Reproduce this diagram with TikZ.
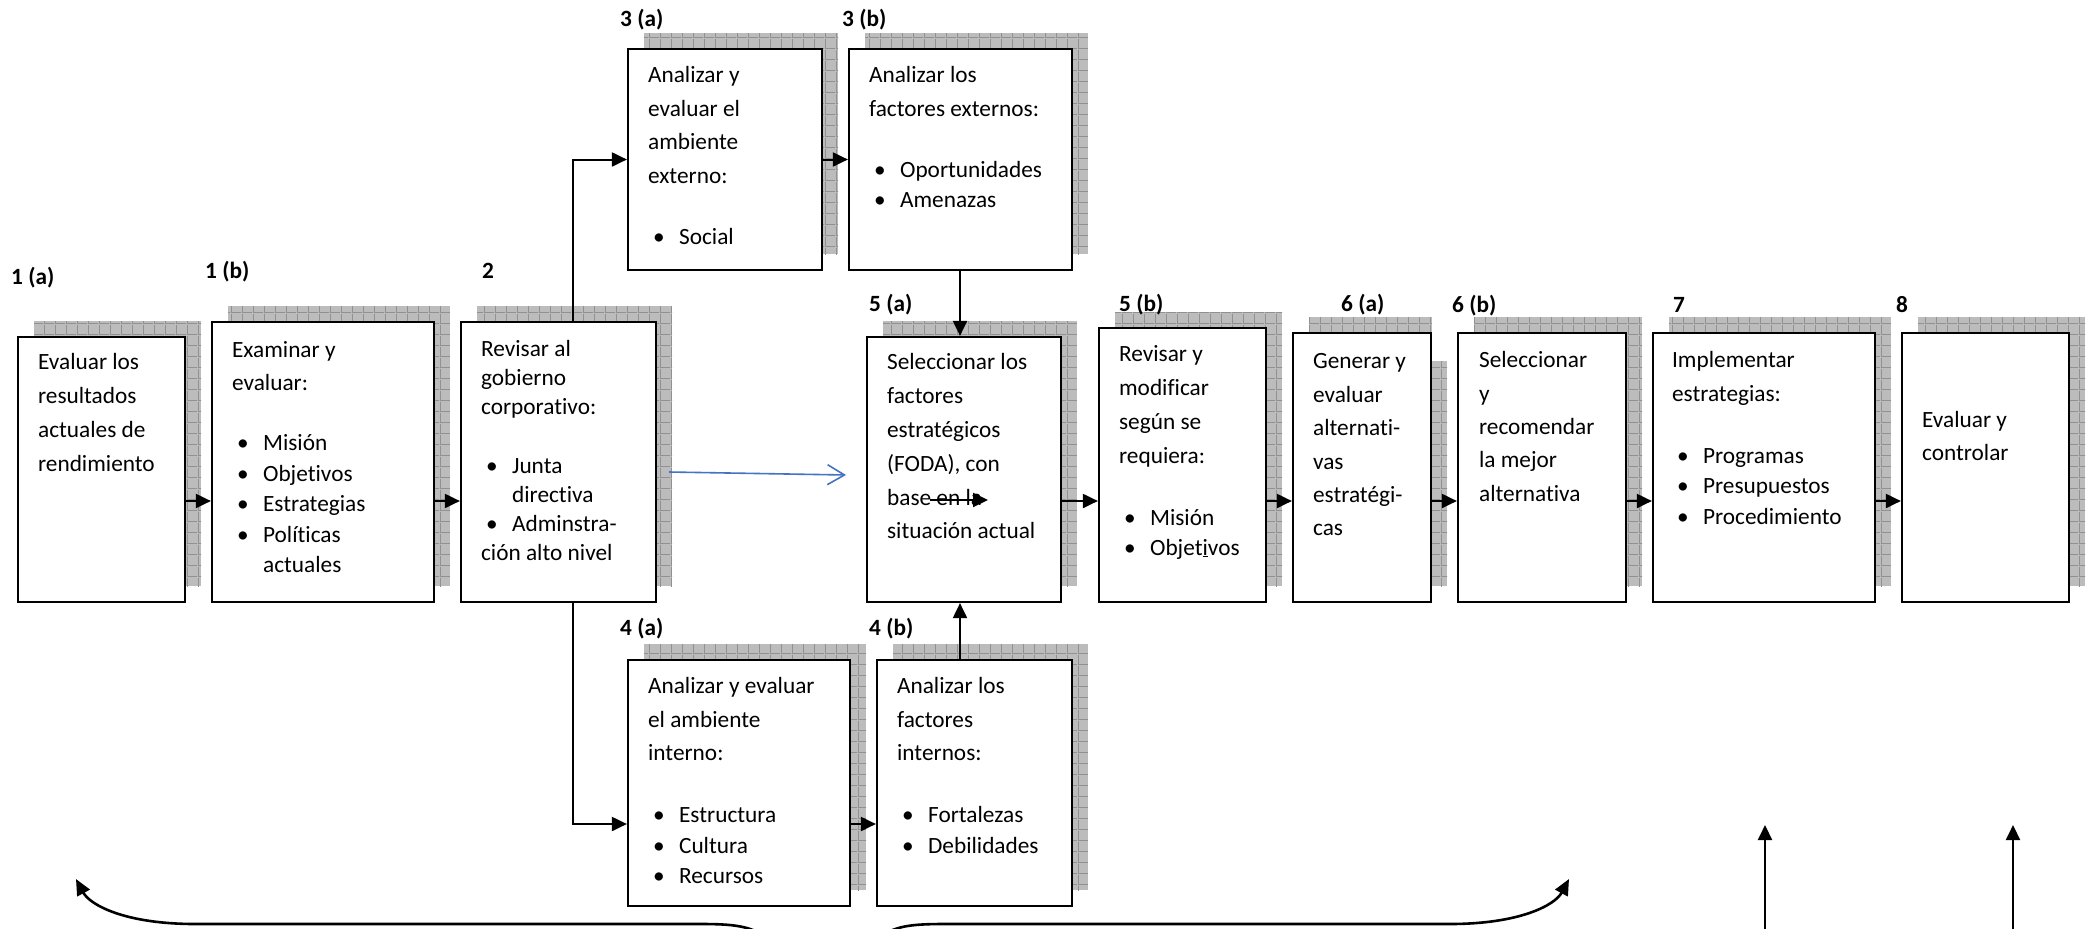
\documentclass[tikz,border=0pt]{standalone}
\usepackage{fontspec}
\setmainfont[Ligatures={NoCommon}]{Carlito}
\usetikzlibrary{arrows.meta,patterns.meta}
\definecolor{shgray}{RGB}{188,188,188}
\definecolor{shline}{RGB}{145,145,145}
\definecolor{bluearr}{RGB}{68,114,196}
\pgfdeclarepattern{
  name=shgrid,
  type=uncolored,
  bottom left={\pgfpoint{0pt}{0pt}},
  top right={\pgfpoint{11pt}{11pt}},
  tile size={\pgfpoint{11pt}{11pt}},
  code={
    \pgfsetlinewidth{1pt}
    \pgfpathmoveto{\pgfpoint{0pt}{0.5pt}}
    \pgfpathlineto{\pgfpoint{11pt}{0.5pt}}
    \pgfpathmoveto{\pgfpoint{0.5pt}{0pt}}
    \pgfpathlineto{\pgfpoint{0.5pt}{11pt}}
    \pgfusepath{stroke}
  }
}
\newcommand\TLine[2]{\baselineskip=#1pt\relax\hbox{#2}}
\newcommand\TBul[2]{\baselineskip=#1pt\relax\hbox{\hspace*{5pt}\makebox[26pt][l]{\textbullet}#2}}
\newcommand\TInd[2]{\baselineskip=#1pt\relax\hbox{\hspace*{31pt}#2}}
\newcommand\Txt[1]{\vtop{\lineskiplimit=-200pt\lineskip=0pt #1}}
\begin{document}
\begin{tikzpicture}[x=1pt,y=-1pt,
  box/.style={rectangle, draw=black, line width=2.2pt, fill=white, inner sep=0pt,
    preaction={fill=shgray, transform canvas={xshift=16pt,yshift=16pt}},
    preaction={pattern=shgrid, pattern color=shline, transform canvas={xshift=16pt,yshift=16pt}}},
  txt/.style={anchor=base west, inner sep=0pt, font=\fontsize{23.3}{33.5}\selectfont},
  lbl/.style={anchor=base west, inner sep=0pt, font=\fontsize{23.3}{28}\selectfont\bfseries},
  arr/.style={line width=2pt, -{Triangle[length=15pt,width=14pt]}},
  arrb/.style={line width=2.6pt, -{Triangle[length=16pt,width=14pt]}},
  barr/.style={line width=1.6pt, draw=bluearr, -{Straight Barb[length=17pt,width=20pt,line width=1.6pt]}}
]
\useasboundingbox (0,0) rectangle (2089,929);
\fill[white] (0,0) rectangle (2089,929);

% boxes
\node[box, minimum width=167pt, minimum height=265pt] (b1a) at (101.5,469.5) {};
\node[box, minimum width=222pt, minimum height=280pt] (b1b) at (323,462) {};
\node[box, minimum width=195pt, minimum height=280pt] (b2)  at (558.5,462) {};
\node[box, minimum width=194pt, minimum height=221pt] (b3a) at (725,159.5) {};
\node[box, minimum width=223pt, minimum height=221pt] (b3b) at (960.5,159.5) {};
\node[box, minimum width=222pt, minimum height=246pt] (b4a) at (739,783) {};
\node[box, minimum width=195pt, minimum height=246pt] (b4b) at (974.5,783) {};
\node[box, minimum width=194pt, minimum height=265pt] (b5a) at (964,469.5) {};
\node[box, minimum width=167pt, minimum height=274pt] (b5b) at (1182.5,465) {};
\node[box, minimum width=138pt, minimum height=269pt] (b6a) at (1362,467.5) {};
\fill[white] (1432.4,314) rectangle (1450,361);
\node[box, minimum width=168pt, minimum height=269pt] (b6b) at (1542,467.5) {};
\node[box, minimum width=222pt, minimum height=269pt] (b7)  at (1764,467.5) {};
\node[box, minimum width=167pt, minimum height=269pt] (b8)  at (1985.5,467.5) {};

% labels
\node[lbl] (l1a) at (11,284) {1 (a)};
\node[lbl] (l1b) at (205,278) {1 (b)};
\node[lbl] (l2)  at (482,278) {2};
\node[lbl] (l3a) at (620,26) {3 (a)};
\node[lbl] (l3b) at (842,26) {3 (b)};
\node[lbl] (l4a) at (620,635) {4 (a)};
\node[lbl] (l4b) at (869,635) {4 (b)};
\node[lbl] (l5a) at (869,311) {5 (a)};
\node[lbl] (l5b) at (1119,311) {5 (b)};
\node[lbl] (l6a) at (1341,311) {6 (a)};
\node[lbl] (l6b) at (1452,312) {6 (b)};
\node[lbl] (l7)  at (1673,312) {7};
\node[lbl] (l8)  at (1896,312) {8};

% texts
\node[txt] (t1a) at ([shift={(21pt,-34pt)}]b1a.north west) {\Txt{\TLine{0}{Evaluar los}\TLine{33.7}{resultados}\TLine{33.7}{actuales de}\TLine{33.7}{rendimiento}}};
\node[txt] (t1b) at ([shift={(21pt,-37pt)}]b1b.north west) {\Txt{\TLine{0}{Examinar y}\TLine{33}{evaluar:}\TBul{60}{Misión}\TBul{30.5}{Objetivos}\TBul{30.5}{Estrategias}\TBul{30.5}{Políticas}\TInd{30.5}{actuales}}};
\node[txt] (t2) at ([shift={(21pt,-36pt)}]b2.north west) {\Txt{\TLine{0}{Revisar al}\TLine{29}{gobierno}\TLine{29}{corporativo:}\TBul{59}{Junta}\TInd{28.5}{directiva}\TBul{29.5}{Adminstra-}\TLine{28.5}{ción alto nivel}}};
\node[txt] (t3a) at ([shift={(21pt,-35pt)}]b3a.north west) {\Txt{\TLine{0}{Analizar y}\TLine{33.5}{evaluar el}\TLine{33.5}{ambiente}\TLine{33.5}{externo:}\TBul{61}{Social}}};
\node[txt] (t3b) at ([shift={(21pt,-35pt)}]b3b.north west) {\Txt{\TLine{0}{Analizar los}\TLine{33.5}{factores externos:}\TBul{61}{Oportunidades}\TBul{30}{Amenazas}}};
\node[txt] (t4a) at ([shift={(21pt,-35pt)}]b4a.north west) {\Txt{\TLine{0}{Analizar y evaluar}\TLine{33.5}{el ambiente}\TLine{33.5}{interno:}\TBul{62}{Estructura}\TBul{31}{Cultura}\TBul{30}{Recursos}}};
\node[txt] (t4b) at ([shift={(21pt,-35pt)}]b4b.north west) {\Txt{\TLine{0}{Analizar los}\TLine{33.5}{factores}\TLine{33.5}{internos:}\TBul{62}{Fortalezas}\TBul{31}{Debilidades}}};
\node[txt] (t5a) at ([shift={(21pt,-34pt)}]b5a.north west) {\Txt{\TLine{0}{Seleccionar los}\TLine{33.8}{factores}\TLine{33.8}{estratégicos}\TLine{33.8}{(FODA), con}\TLine{33.8}{base en la}\TLine{33.8}{situación actual}}};
\node[txt] (t5b) at ([shift={(21pt,-35pt)}]b5b.north west) {\Txt{\TLine{0}{Revisar y}\TLine{33.7}{modificar}\TLine{33.7}{según se}\TLine{33.7}{requiera:}\TBul{62}{Misión}\TBul{30}{Objet\underline{i}vos}}};
\node[txt] (t6a) at ([shift={(21pt,-37pt)}]b6a.north west) {\Txt{\TLine{0}{Generar y}\TLine{33.4}{evaluar}\TLine{33.4}{alternati-}\TLine{33.4}{vas}\TLine{33.4}{estratégi-}\TLine{33.4}{cas}}};
\node[txt] (t6b) at ([shift={(22pt,-36pt)}]b6b.north west) {\Txt{\TLine{0}{Seleccionar}\TLine{33.3}{y}\TLine{33.3}{recomendar}\TLine{33.3}{la mejor}\TLine{33.3}{alternativa}}};
\node[txt] (t7) at ([shift={(20pt,-36pt)}]b7.north west) {\Txt{\TLine{0}{Implementar}\TLine{33.3}{estrategias:}\TBul{62}{Programas}\TBul{30.5}{Presupuestos}\TBul{30.5}{Procedimiento}}};
\node[txt] (t8) at ([shift={(21pt,-96pt)}]b8.north west) {\Txt{\TLine{0}{Evaluar y}\TLine{33}{controlar}}};

% helper coordinates
\coordinate (row) at (0,501);
\coordinate (vx) at (573,160);
\coordinate (r4) at (0,824);
\coordinate (vx5) at (960,0);

% connectors
\draw[arr] (b1a.east |- row) -- (b1b.west |- row);
\draw[arr] (b1b.east |- row) -- (b2.west |- row);
\draw[arr] (b2.north -| vx) |- (b3a.west);
\draw[arr] (b3a.east) -- (b3b.west);
\draw[arr] (b3b.south -| vx5) -- (b5a.north -| vx5);
\draw[arr] (b2.south -| vx) |- (b4a.west |- r4);
\draw[arr] (b4a.east |- r4) -- (b4b.west |- r4);
\draw[arr] (b4b.north -| vx5) -- (b5a.south -| vx5);
\draw[arr] (b5a.east |- row) -- (b5b.west |- row);
\draw[arr] (b5b.east |- row) -- (b6a.west |- row);
\draw[arr] (b6a.east |- row) -- (b6b.west |- row);
\draw[arr] (b6b.east |- row) -- (b7.west |- row);
\draw[arr] (b7.east |- row) -- (b8.west |- row);

% blue arrow
\coordinate (bs) at (669,472);
\coordinate (be) at (846,475);
\draw[barr] (bs) -- (be);

% stray arrow over text in 5(a)
\coordinate (s1) at (930,500);
\coordinate (s2) at (988,500);
\draw[arr] (s1) -- (s2);

% bottom brace arrows
\coordinate (lb) at (768,938);
\coordinate (lt) at (76,879);
\coordinate (rb) at (878,938);
\coordinate (rt) at (1569,879);
\draw[arrb] (lb) .. controls (750,926) and (735,924) .. (700,924) -- (195,924) .. controls (125,924) and (90,905) .. (lt);
\draw[arrb] (rb) .. controls (895,926) and (910,924) .. (945,924) -- (1450,924) .. controls (1520,924) and (1555,905) .. (rt);

% vertical arrows bottom right
\coordinate (u1a) at (1765,935);
\coordinate (u1b) at (1765,825);
\coordinate (u2a) at (2013,935);
\coordinate (u2b) at (2013,825);
\draw[arr] (u1a) -- (u1b);
\draw[arr] (u2a) -- (u2b);
\end{tikzpicture}
\end{document}
